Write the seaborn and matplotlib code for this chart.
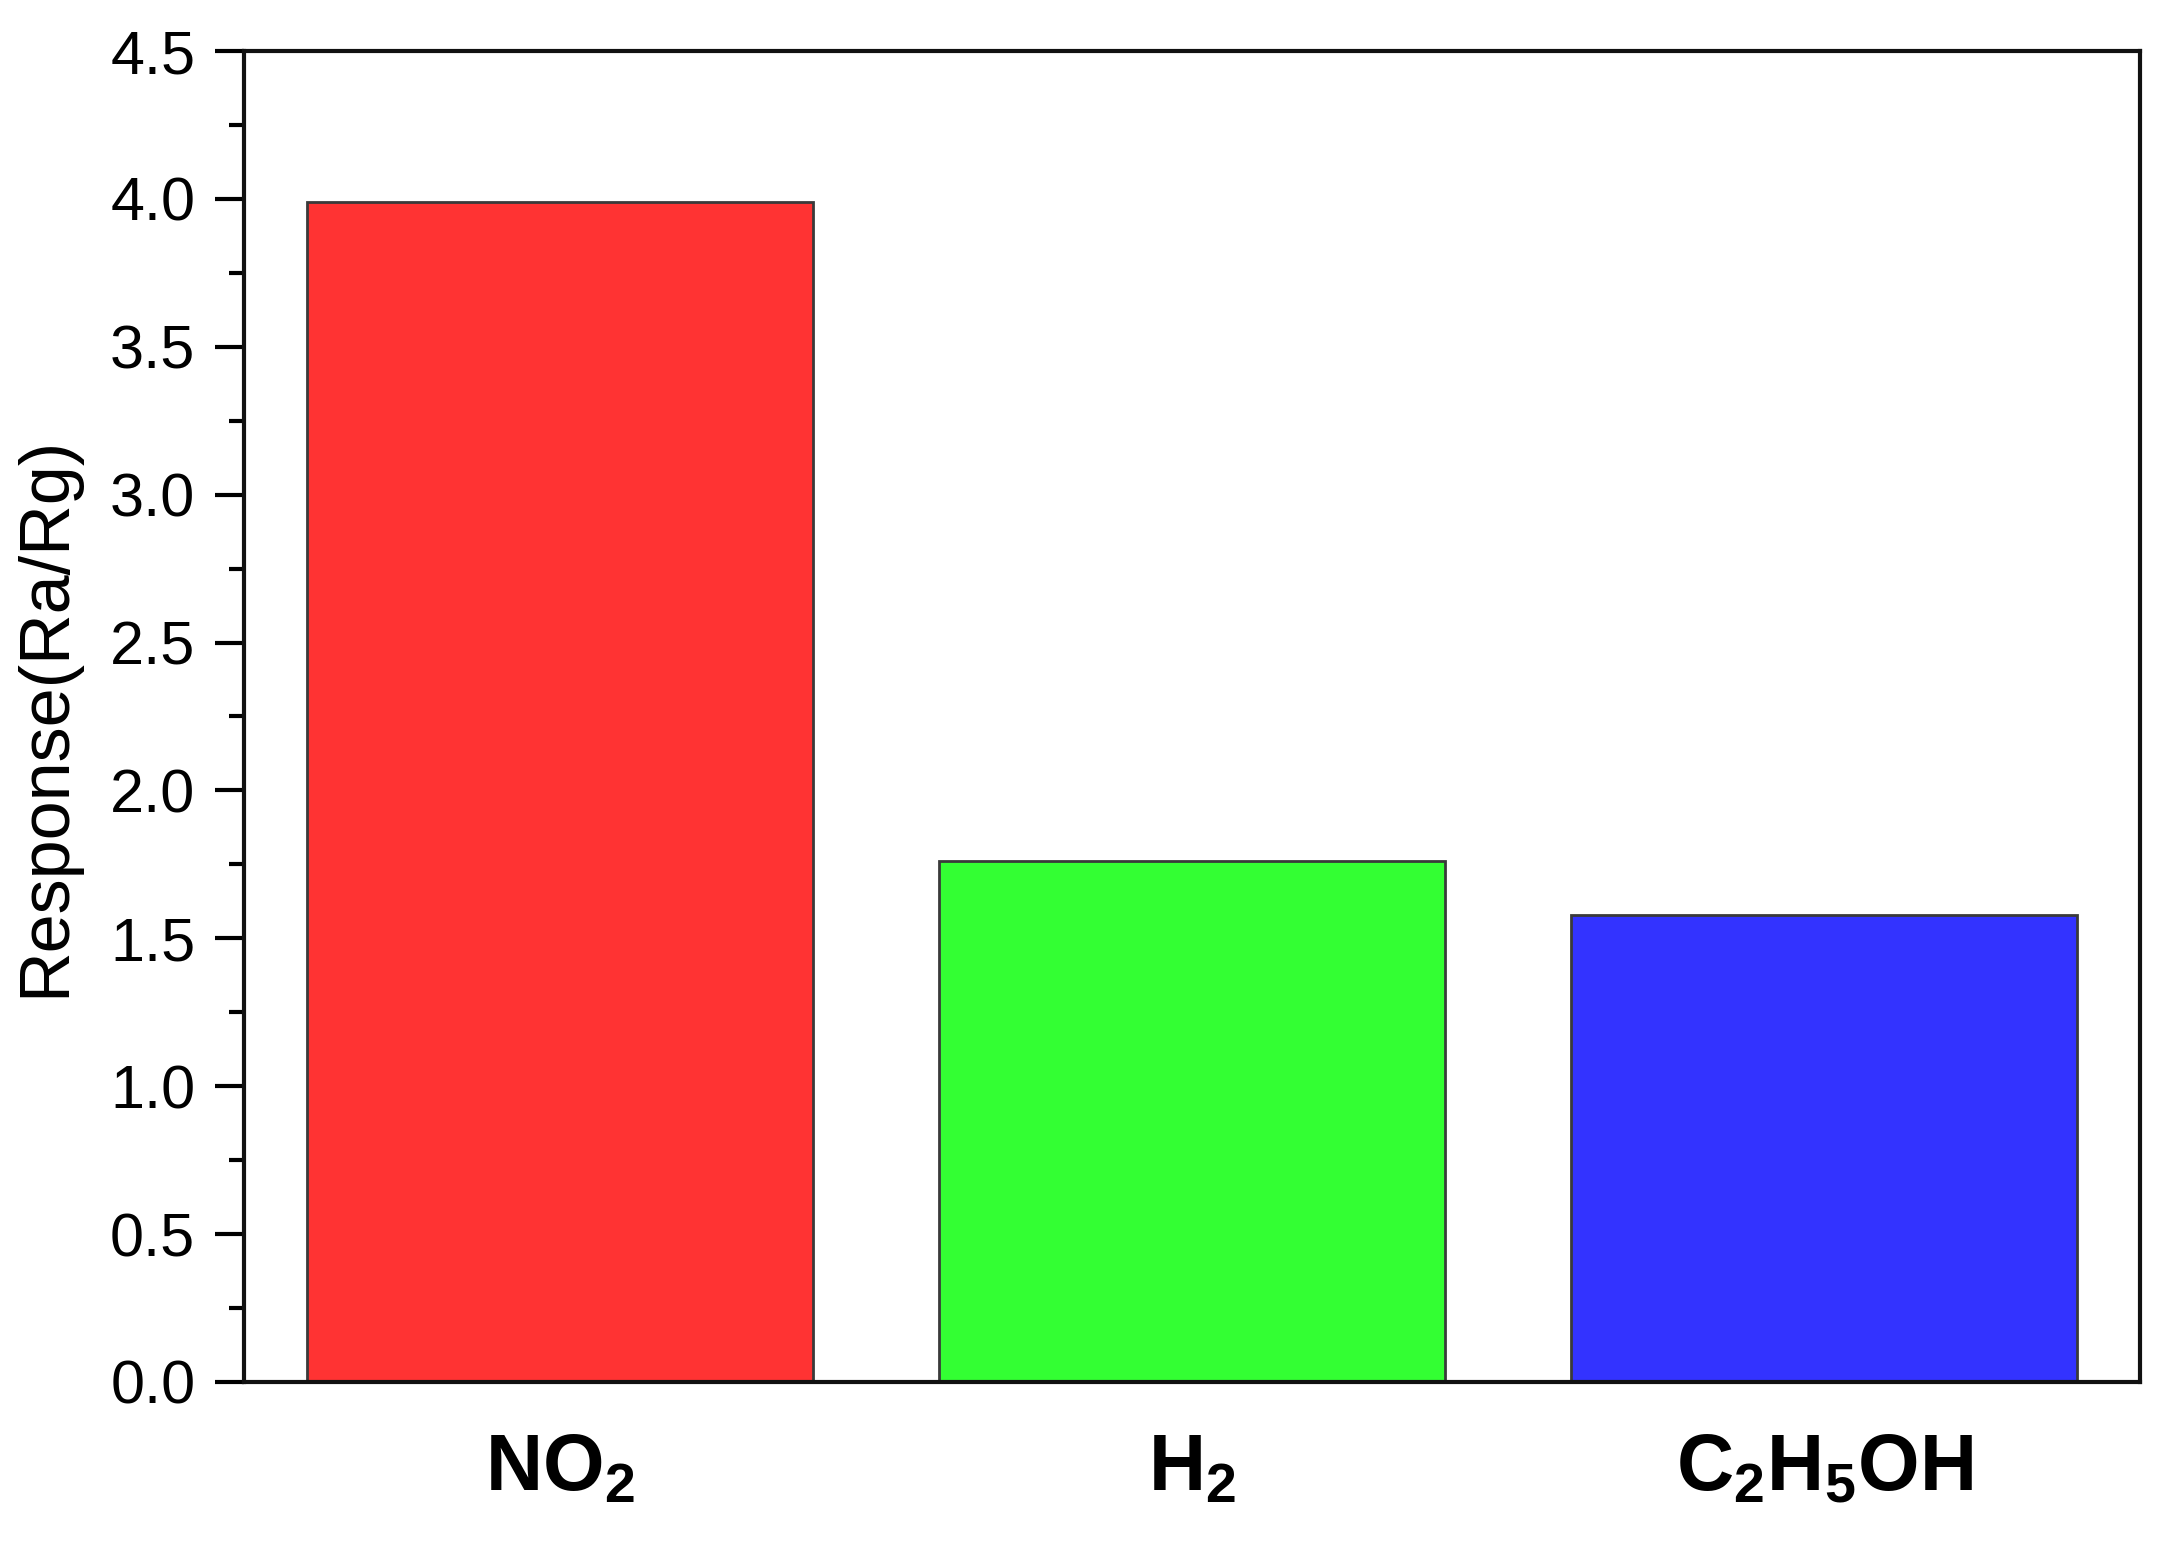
import matplotlib
matplotlib.use('Agg')
import matplotlib.pyplot as plt
from matplotlib.ticker import MultipleLocator
import seaborn as sns
import pandas as pd

# gas responses
gases = ['NO2', 'H2', 'C2H5OH']
gas_labels = [r'$\mathbf{NO_2}$', r'$\mathbf{H_2}$', r'$\mathbf{C_2H_5OH}$']
response = [3.99, 1.76, 1.58]
bar_colors = ['#FF3333', '#33FF33', '#3333FF']

df = pd.DataFrame({'gas': gases, 'response': response})

sns.set_style('white')
plt.rcParams['font.family'] = ['Liberation Sans', 'DejaVu Sans']
plt.rcParams['mathtext.fontset'] = 'custom'
plt.rcParams['mathtext.rm'] = 'Liberation Sans'
plt.rcParams['mathtext.bf'] = 'Liberation Sans:bold'
plt.rcParams['text.color'] = 'black'
plt.rcParams['axes.labelcolor'] = 'black'
plt.rcParams['xtick.color'] = 'black'
plt.rcParams['ytick.color'] = 'black'

fig = plt.figure(figsize=(21.61, 15.41), dpi=100)
ax = fig.add_axes([0.1129, 0.1032, 0.8774, 0.8637])

sns.barplot(data=df, x='gas', y='response', hue='gas',
            palette=bar_colors, legend=False, width=0.8,
            edgecolor='#3a3a3a', linewidth=2, saturation=1, ax=ax)

ax.set_xlim(-0.5, 2.5)
ax.set_ylim(0, 4.5)
ax.yaxis.set_major_locator(MultipleLocator(0.5))
ax.yaxis.set_minor_locator(MultipleLocator(0.25))
ax.set_xticks(range(len(gases)))
ax.set_xticklabels(gas_labels, fontsize=57)

ax.tick_params(axis='y', which='major', direction='out', length=21, width=3,
               labelsize=44, pad=14, left=True)
ax.tick_params(axis='y', which='minor', direction='out', length=10.5, width=3, left=True)
ax.tick_params(axis='x', length=0, pad=36)

for s in ax.spines.values():
    s.set_visible(True)
    s.set_linewidth(3)
    s.set_color('#111111')

ax.set_xlabel('')
ax.set_ylabel('Response(Ra/Rg)', fontsize=50.5, labelpad=22)

fig.savefig('out.png', dpi=100, facecolor='white')
